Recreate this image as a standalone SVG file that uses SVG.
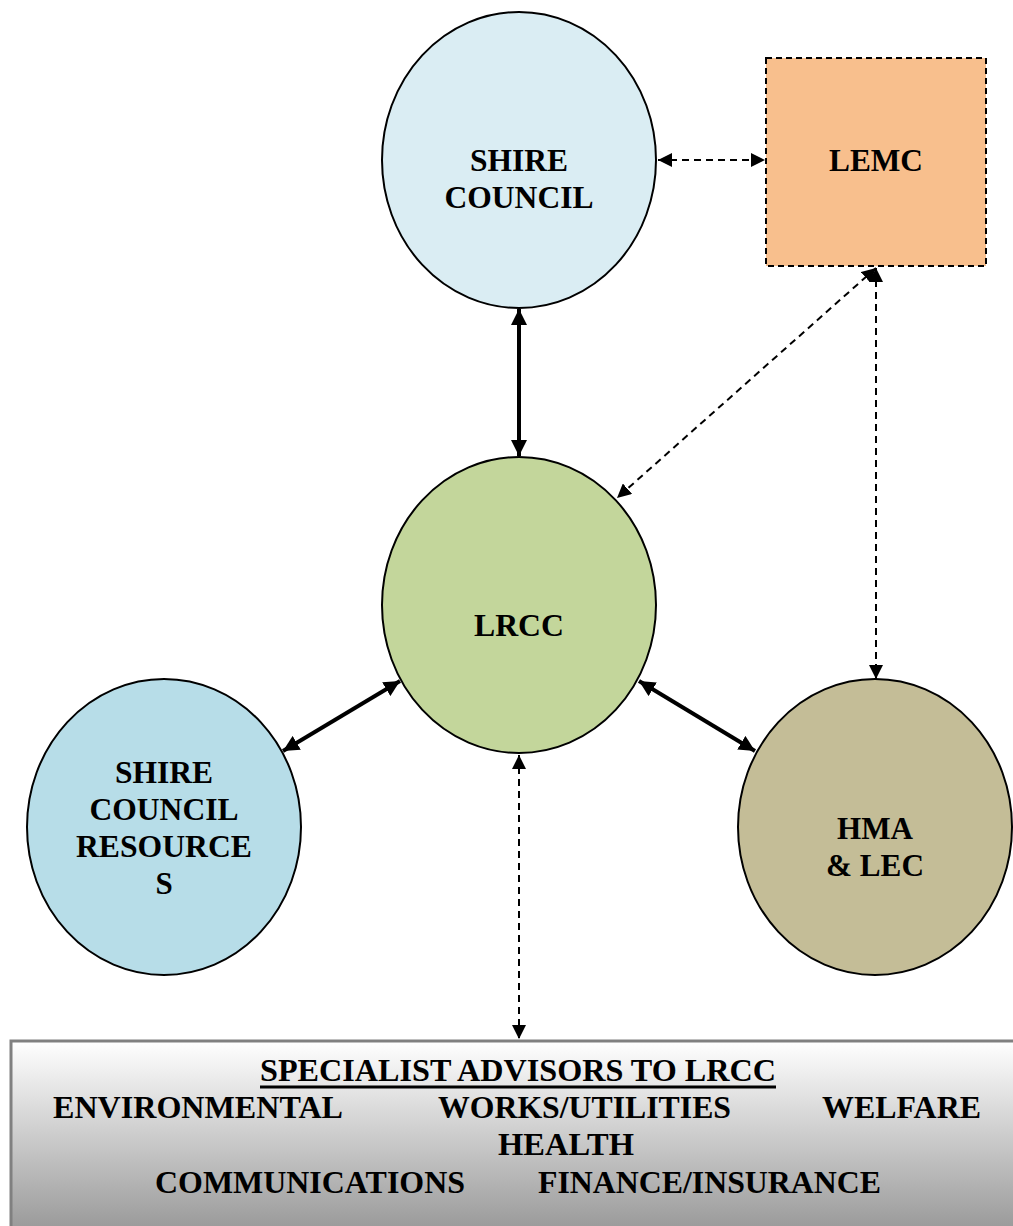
<svg xmlns="http://www.w3.org/2000/svg" width="1013" height="1226" viewBox="0 0 1013 1226">
<style>
.t{font-family:"Liberation Serif","Times New Roman",serif;font-weight:bold;font-size:31px;fill:#000;text-anchor:middle}
.node{stroke:#000;stroke-width:2}
.solid{stroke:#000;stroke-width:4;fill:none;marker-start:url(#ah);marker-end:url(#ah)}
.dash{stroke:#000;stroke-width:2;stroke-dasharray:7,5;fill:none;marker-start:url(#ahs);marker-end:url(#ahs)}
</style>
<defs>
<marker id="ah" markerUnits="userSpaceOnUse" viewBox="0 0 16 16" refX="16" refY="8" markerWidth="16" markerHeight="16" orient="auto-start-reverse">
<path d="M0,0 L16,8 L0,16 Z" fill="#000"/>
</marker>
<marker id="ahs" markerUnits="userSpaceOnUse" viewBox="0 0 14 14" refX="14" refY="7" markerWidth="14" markerHeight="14" orient="auto-start-reverse">
<path d="M0,0 L14,7 L0,14 Z" fill="#000"/>
</marker>
<linearGradient id="g" x1="0" y1="0" x2="0" y2="1">
<stop offset="0" stop-color="#ffffff"/>
<stop offset="1" stop-color="#999999"/>
</linearGradient>
</defs>
<rect width="1013" height="1226" fill="#fff"/>
<g id="connectors">
<line class="dash" x1="658" y1="160" x2="765" y2="160"/>
<line class="solid" x1="519" y1="309" x2="519" y2="456"/>
<line class="dash" x1="876" y1="268" x2="617" y2="498"/>
<line class="dash" x1="876" y1="268" x2="876" y2="679"/>
<line class="solid" x1="400" y1="681" x2="283" y2="751"/>
<line class="solid" x1="639" y1="681" x2="755" y2="751"/>
<line class="dash" x1="519" y1="755" x2="519" y2="1039"/>
</g>
<g id="shire-council">
<ellipse class="node" cx="519" cy="160" rx="137" ry="148" fill="#daedf3"/>
<text class="t" x="519" y="171" textLength="98" lengthAdjust="spacingAndGlyphs">SHIRE</text>
<text class="t" x="519" y="208" textLength="149" lengthAdjust="spacingAndGlyphs">COUNCIL</text>
</g>
<g id="lemc">
<rect x="766" y="58" width="220" height="208" fill="#f8bf8d" stroke="#000" stroke-width="2" stroke-dasharray="6,4"/>
<text class="t" x="876" y="171" textLength="94" lengthAdjust="spacingAndGlyphs">LEMC</text>
</g>
<g id="lrcc">
<ellipse class="node" cx="519" cy="605" rx="137" ry="148" fill="#c3d69b"/>
<text class="t" x="519" y="636" textLength="90" lengthAdjust="spacingAndGlyphs">LRCC</text>
</g>
<g id="shire-council-resources">
<ellipse class="node" cx="164" cy="827" rx="137" ry="148" fill="#b7dde8"/>
<text class="t" x="164" y="783" textLength="98" lengthAdjust="spacingAndGlyphs">SHIRE</text>
<text class="t" x="164" y="820" textLength="149" lengthAdjust="spacingAndGlyphs">COUNCIL</text>
<text class="t" x="164" y="857" textLength="176" lengthAdjust="spacingAndGlyphs">RESOURCE</text>
<text class="t" x="164" y="894">S</text>
</g>
<g id="hma-lec">
<ellipse class="node" cx="875" cy="827" rx="137" ry="148" fill="#c4bd97"/>
<text class="t" x="875" y="839" textLength="76" lengthAdjust="spacingAndGlyphs">HMA</text>
<text class="t" x="875" y="876" textLength="98" lengthAdjust="spacingAndGlyphs">&amp; LEC</text>
</g>
<g id="specialist-advisors">
<rect x="11" y="1041" width="1004" height="190" fill="url(#g)" stroke="#808080" stroke-width="3"/>
<text class="t" x="518" y="1081" textLength="516" lengthAdjust="spacingAndGlyphs">SPECIALIST ADVISORS TO LRCC</text>
<line x1="260" y1="1087" x2="776" y2="1087" stroke="#000" stroke-width="3"/>
<text class="t" x="198" y="1118" textLength="290" lengthAdjust="spacingAndGlyphs">ENVIRONMENTAL</text>
<text class="t" x="584.5" y="1118" textLength="293" lengthAdjust="spacingAndGlyphs">WORKS/UTILITIES</text>
<text class="t" x="901.5" y="1118" textLength="159" lengthAdjust="spacingAndGlyphs">WELFARE</text>
<text class="t" x="566" y="1155" textLength="136" lengthAdjust="spacingAndGlyphs">HEALTH</text>
<text class="t" x="310" y="1193" textLength="310" lengthAdjust="spacingAndGlyphs">COMMUNICATIONS</text>
<text class="t" x="709.5" y="1193" textLength="343" lengthAdjust="spacingAndGlyphs">FINANCE/INSURANCE</text>
</g>
</svg>
